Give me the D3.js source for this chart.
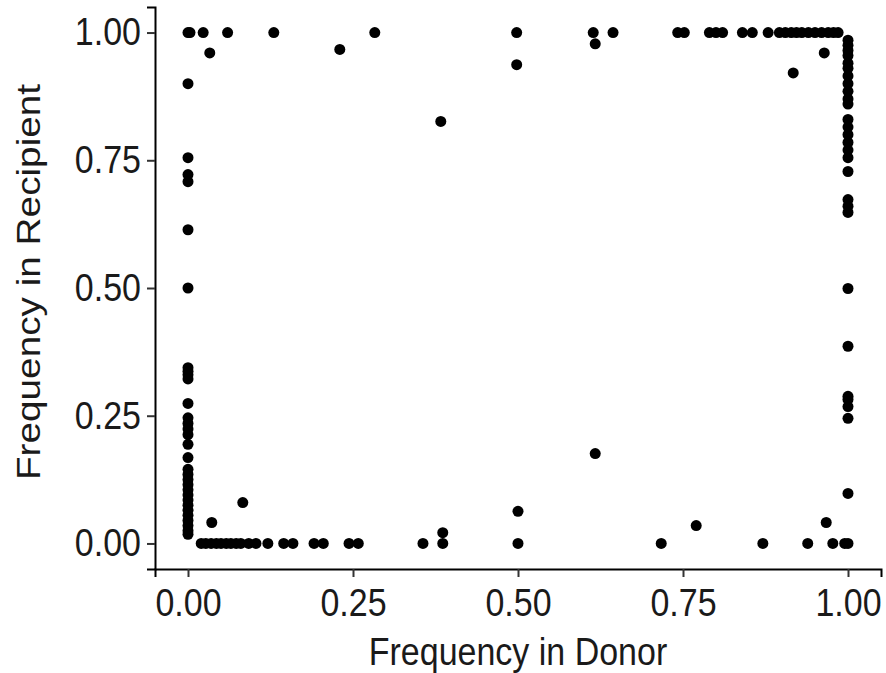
<!DOCTYPE html>
<html>
<head>
<meta charset="utf-8">
<script src="https://cdn.jsdelivr.net/npm/d3@7"></script>
<style>
  body { margin: 0; background: #fff; }
  text { font-family: "Liberation Sans", Arial, sans-serif; }
</style>
</head>
<body>
<svg id="chart" width="886" height="673"></svg>
<script>
// frequencies, one list per band of points
let leftColumn = [1.0, 0.90, 0.755, 0.722, 0.708, 0.614, 0.50, 0.344, 0.337, 0.330, 0.322,
    0.274, 0.246, 0.235, 0.224, 0.213, 0.194, 0.168, 0.145, 0.135, 0.125, 0.115, 0.105,
    0.095, 0.085, 0.075, 0.065, 0.055, 0.045, 0.035, 0.025, 0.018];
let rightColumn = [0.985, 0.975, 0.965, 0.955, 0.94, 0.93, 0.915, 0.90, 0.885, 0.87, 0.86,
    0.83, 0.815, 0.80, 0.785, 0.77, 0.755, 0.728, 0.673, 0.66, 0.648, 0.499, 0.386, 0.288,
    0.282, 0.268, 0.245, 0.098, 0.0];
let bottomRow = [0.02, 0.027, 0.035, 0.043, 0.05, 0.058, 0.065, 0.073, 0.08, 0.092, 0.103,
    0.121, 0.145, 0.159, 0.191, 0.205, 0.244, 0.258, 0.356, 0.386, 0.50, 0.717, 0.871,
    0.939, 0.977, 0.995];
let topRow = [0.003, 0.023, 0.06, 0.13, 0.283, 0.498, 0.614, 0.644, 0.742, 0.752, 0.79,
    0.80, 0.81, 0.84, 0.855, 0.879, 0.896, 0.905, 0.914, 0.922, 0.93, 0.94, 0.95, 0.96,
    0.97, 0.978, 0.985];
let scatterDonor =     [0.033, 0.23, 0.617, 0.498, 0.964, 0.917, 0.383, 0.083, 0.036, 0.386, 0.50, 0.77, 0.967, 0.617];
let scatterRecipient = [0.96, 0.967, 0.978, 0.937, 0.96, 0.921, 0.826, 0.08, 0.041, 0.021, 0.063, 0.035, 0.041, 0.176];

let tickValues = [0, 0.25, 0.5, 0.75, 1];
let xTitle = "Frequency in Donor";
let yTitle = "Frequency in Recipient";

// build one point list from the bands
let points = [];
leftColumn.forEach(v => points.push({donor: 0, recipient: v}));
rightColumn.forEach(v => points.push({donor: 1, recipient: v}));
bottomRow.forEach(v => points.push({donor: v, recipient: 0}));
topRow.forEach(v => points.push({donor: v, recipient: 1}));
scatterDonor.forEach((v, i) => points.push({donor: v, recipient: scatterRecipient[i]}));

let margin = {left: 155, right: 5, top: 7, bottom: 104};
let width = 886, height = 673;
// the source picture is a bit taller than wide, text is stretched to match
let stretch = 1.14;

let svg = d3.select("#chart");

// ggplot-like 5% expansion of the 0..1 range
let x = d3.scaleLinear().domain([-0.05, 1.05]).range([margin.left, width - margin.right]);
let y = d3.scaleLinear().domain([-0.05, 1.05]).range([height - margin.bottom, margin.top]);

svg.append("g")
    .selectAll("circle")
    .data(points)
    .join("circle")
    .attr("cx", d => x(d.donor))
    .attr("cy", d => y(d.recipient))
    .attr("r", 5.5)
    .style("fill", "#000");

let fmt = d3.format(".2f");

let xAxis = svg.append("g")
    .attr("transform", "translate(0," + (height - margin.bottom) + ")")
    .call(d3.axisBottom(x).tickValues(tickValues).tickFormat(fmt).tickSizeOuter(0).tickSize(8).tickPadding(9));

let yAxis = svg.append("g")
    .attr("transform", "translate(" + margin.left + ",0)")
    .call(d3.axisLeft(y).tickValues(tickValues).tickFormat(fmt).tickSizeOuter(0).tickSize(8).tickPadding(6));

[xAxis, yAxis].forEach(g => {
    g.select(".domain").attr("stroke", "#000").attr("stroke-width", 2);
    g.selectAll(".tick line").attr("stroke", "#333").attr("stroke-width", 2);
    g.selectAll(".tick text")
        .style("font-size", "34px")
        .style("font-family", "'Liberation Sans', Arial, sans-serif")
        .attr("transform", "scale(1," + stretch + ")")
        .attr("fill", "#1a1a1a");
});

svg.append("text")
    .attr("transform", "translate(" + ((x(-0.05) + x(1.05)) / 2) + ",665) scale(1," + stretch + ")")
    .attr("text-anchor", "middle")
    .style("font-size", "34px")
    .attr("fill", "#1a1a1a")
    .text(xTitle);

svg.append("text")
    .attr("transform", "translate(40," + ((y(-0.05) + y(1.05)) / 2 - 6) + ") rotate(-90) scale(" + stretch + ",1)")
    .attr("text-anchor", "middle")
    .style("font-size", "34px")
    .attr("fill", "#1a1a1a")
    .text(yTitle);
</script>
</body>
</html>
